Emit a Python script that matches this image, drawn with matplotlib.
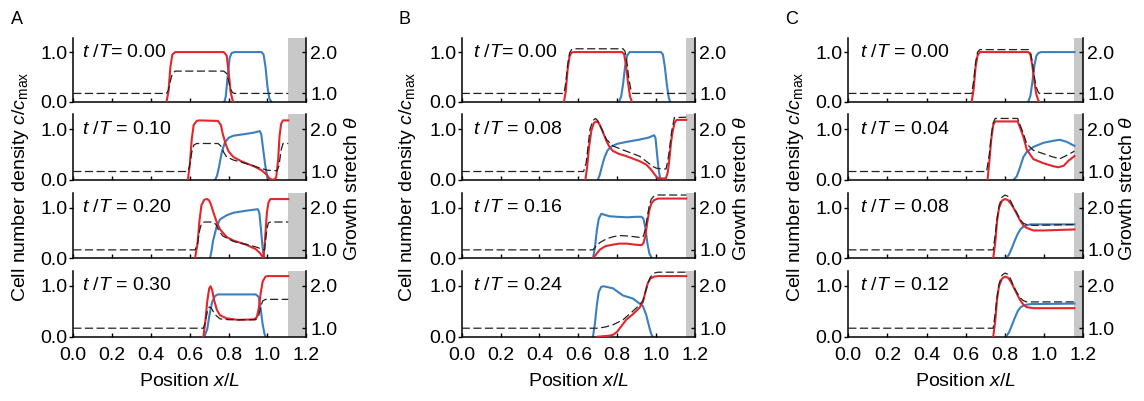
#!/usr/bin/env python3
"""Cell density profiles (two populations) and growth stretch over time, panels A-C."""
import matplotlib
matplotlib.use("Agg")
import matplotlib.pyplot as plt

plt.rcParams["font.family"] = ["Liberation Sans", "DejaVu Sans"]
plt.rcParams["mathtext.fontset"] = "custom"
plt.rcParams["mathtext.rm"] = "Liberation Sans"
plt.rcParams["mathtext.it"] = "Liberation Sans:italic"

RED = "#e2262b"
BLUE = "#3b7fbf"

# ---- values: (x/L, value) pairs ----
# panel A
A_times = ["0.00", "0.10", "0.20", "0.30"]
A_gray = 1.107
A0_red = [(0.48, 0), (0.49, 0.2), (0.50, 0.7), (0.51, 0.95), (0.525, 1.0), (0.775, 1.0), (0.79, 0.93),
          (0.80, 0.6), (0.81, 0.2), (0.82, 0.03), (0.825, 0)]
A0_blue = [(0.778, 0), (0.785, 0.1), (0.795, 0.5), (0.805, 0.88), (0.815, 0.98), (0.83, 1.0), (0.97, 1.0),
           (0.98, 0.95), (0.99, 0.7), (1.0, 0.3), (1.01, 0.06), (1.02, 0)]
A0_theta = [(0, 1.0), (0.48, 1.0), (0.49, 1.08), (0.50, 1.3), (0.51, 1.48), (0.525, 1.54), (0.775, 1.54),
            (0.79, 1.48), (0.80, 1.3), (0.81, 1.1), (0.82, 1.02), (0.83, 1.0), (A_gray, 1.0)]
A1_red = [(0.59, 0), (0.60, 0.3), (0.61, 0.8), (0.62, 1.08), (0.635, 1.16), (0.65, 1.17), (0.745, 1.16),
          (0.76, 1.08), (0.77, 0.9), (0.785, 0.7), (0.80, 0.56), (0.825, 0.45), (0.87, 0.36), (0.93, 0.27),
          (0.97, 0.19), (0.997, 0.1), (1.01, 0.03), (1.03, 0.0), (1.045, 0.05), (1.055, 0.4), (1.062, 0.85),
          (1.07, 1.1), (1.08, 1.17), (A_gray, 1.17)]
A1_blue = [(0.73, 0), (0.74, 0.08), (0.75, 0.25), (0.765, 0.55), (0.78, 0.73), (0.80, 0.83), (0.825, 0.87),
           (0.88, 0.9), (0.93, 0.93), (0.96, 0.96), (0.968, 0.9), (0.978, 0.6), (0.99, 0.25), (1.0, 0.04),
           (1.005, 0)]
A1_theta = [(0, 1.0), (0.59, 1.0), (0.60, 1.15), (0.61, 1.45), (0.62, 1.62), (0.635, 1.66), (0.745, 1.66),
            (0.76, 1.6), (0.775, 1.45), (0.79, 1.34), (0.825, 1.27), (0.88, 1.2), (0.93, 1.13), (0.97, 1.07),
            (1.0, 1.03), (1.05, 1.02), (1.06, 1.15), (1.07, 1.5), (1.08, 1.66), (A_gray, 1.66)]
A2_red = [(0.627, 0), (0.64, 0.3), (0.65, 0.75), (0.66, 1.05), (0.675, 1.16), (0.69, 1.17), (0.70, 1.14),
          (0.71, 1.05), (0.722, 0.9), (0.74, 0.7), (0.756, 0.57), (0.79, 0.42), (0.825, 0.35), (0.89, 0.27),
          (0.94, 0.18), (0.962, 0.1), (0.975, 0.03), (0.98, 0.01), (0.988, 0.4), (0.997, 0.9), (1.005, 1.1),
          (1.015, 1.17), (A_gray, 1.17)]
A2_blue = [(0.704, 0), (0.712, 0.15), (0.72, 0.35), (0.74, 0.65), (0.756, 0.77), (0.79, 0.85), (0.825, 0.9),
           (0.89, 0.94), (0.95, 0.97), (0.958, 0.9), (0.966, 0.6), (0.974, 0.25), (0.98, 0.04), (0.985, 0)]
A2_theta = [(0, 1.0), (0.627, 1.0), (0.64, 1.15), (0.65, 1.45), (0.66, 1.62), (0.675, 1.66), (0.72, 1.66),
            (0.735, 1.6), (0.75, 1.45), (0.77, 1.33), (0.79, 1.28), (0.825, 1.2), (0.89, 1.13), (0.94, 1.07),
            (0.97, 1.02), (0.985, 1.0), (0.99, 1.2), (0.997, 1.5), (1.005, 1.64), (1.015, 1.66),
            (A_gray, 1.66)]
A3_red = [(0.67, 0), (0.68, 0.3), (0.69, 0.7), (0.70, 0.95), (0.707, 0.99), (0.715, 0.92), (0.725, 0.72),
          (0.74, 0.52), (0.756, 0.42), (0.79, 0.36), (0.85, 0.33), (0.93, 0.34), (0.945, 0.38), (0.955, 0.55),
          (0.965, 0.85), (0.975, 1.08), (0.99, 1.18), (1.0, 1.19), (A_gray, 1.19)]
A3_blue = [(0.675, 0), (0.69, 0.15), (0.70, 0.4), (0.715, 0.68), (0.73, 0.8), (0.745, 0.83), (0.94, 0.83),
           (0.955, 0.78), (0.965, 0.55), (0.975, 0.25), (0.985, 0.05), (0.99, 0)]
A3_theta = [(0, 1.0), (0.67, 1.0), (0.68, 1.15), (0.69, 1.38), (0.70, 1.5), (0.71, 1.48), (0.73, 1.32),
            (0.756, 1.22), (0.80, 1.2), (0.94, 1.2), (0.955, 1.3), (0.965, 1.5), (0.975, 1.64), (0.99, 1.68),
            (A_gray, 1.68)]

# panel B
B_times = ["0.00", "0.08", "0.16", "0.24"]
B_gray = 1.155
B0_red = [(0.526, 0), (0.535, 0.2), (0.545, 0.65), (0.555, 0.92), (0.565, 0.99), (0.575, 1.0), (0.825, 1.0),
          (0.835, 0.96), (0.845, 0.75), (0.855, 0.4), (0.865, 0.12), (0.875, 0)]
B0_blue = [(0.809, 0), (0.82, 0.1), (0.83, 0.35), (0.84, 0.7), (0.85, 0.92), (0.863, 1.0), (1.025, 1.0),
           (1.035, 0.95), (1.045, 0.7), (1.055, 0.35), (1.065, 0.08), (1.072, 0)]
B0_theta = [(0, 1.0), (0.526, 1.0), (0.535, 1.25), (0.545, 1.7), (0.555, 1.98), (0.565, 2.06), (0.575, 2.08),
            (0.83, 2.08), (0.84, 2.02), (0.85, 1.75), (0.86, 1.35), (0.87, 1.1), (0.88, 1.0), (B_gray, 1.0)]
B1_red = [(0.636, 0), (0.645, 0.25), (0.655, 0.65), (0.667, 0.97), (0.68, 1.12), (0.692, 1.15), (0.705, 1.12),
          (0.72, 1.0), (0.744, 0.77), (0.76, 0.65), (0.778, 0.57), (0.81, 0.51), (0.846, 0.47), (0.88, 0.42),
          (0.915, 0.37), (0.95, 0.3), (0.975, 0.2), (0.99, 0.12), (1.005, 0.05), (1.02, 0.03), (1.05, 0.03),
          (1.06, 0.15), (1.068, 0.4), (1.077, 0.75), (1.085, 0.95), (1.095, 1.12), (1.105, 1.18),
          (B_gray, 1.18)]
B1_blue = [(0.70, 0), (0.71, 0.1), (0.72, 0.25), (0.735, 0.45), (0.75, 0.58), (0.77, 0.66), (0.80, 0.71),
           (0.85, 0.75), (0.91, 0.79), (0.96, 0.83), (0.99, 0.88), (0.997, 0.82), (1.005, 0.5), (1.013, 0.2),
           (1.02, 0.05), (1.026, 0)]
B1_theta = [(0, 1.0), (0.627, 1.0), (0.64, 1.2), (0.65, 1.6), (0.66, 2.0), (0.675, 2.2), (0.688, 2.25),
            (0.70, 2.2), (0.715, 2.05), (0.744, 1.76), (0.778, 1.6), (0.846, 1.48), (0.915, 1.36),
            (0.983, 1.12), (1.0, 1.08), (1.03, 1.06), (1.051, 1.06), (1.06, 1.25), (1.068, 1.5),
            (1.08, 1.95), (1.094, 2.27), (B_gray, 2.28)]
B2_red = [(0.675, 0), (0.69, 0.07), (0.71, 0.17), (0.74, 0.24), (0.778, 0.27), (0.81, 0.29), (0.85, 0.29),
          (0.89, 0.27), (0.925, 0.26), (0.935, 0.3), (0.945, 0.45), (0.955, 0.72), (0.965, 0.95),
          (0.975, 1.08), (0.99, 1.15), (1.01, 1.18), (B_gray, 1.18)]
B2_blue = [(0.675, 0), (0.685, 0.2), (0.695, 0.55), (0.705, 0.78), (0.718, 0.88), (0.735, 0.86), (0.76, 0.83),
           (0.80, 0.82), (0.85, 0.81), (0.90, 0.82), (0.925, 0.82), (0.935, 0.78), (0.945, 0.6),
           (0.955, 0.3), (0.965, 0.1), (0.975, 0.02), (0.98, 0)]
B2_theta = [(0, 1.0), (0.675, 1.0), (0.69, 1.08), (0.71, 1.17), (0.744, 1.26), (0.778, 1.31), (0.81, 1.34),
            (0.85, 1.33), (0.89, 1.31), (0.925, 1.29), (0.935, 1.33), (0.945, 1.5), (0.955, 1.8),
            (0.965, 2.05), (0.975, 2.2), (0.99, 2.28), (1.01, 2.3), (B_gray, 2.3)]
B3_red = [(0.70, 0), (0.76, 0.02), (0.78, 0.04), (0.80, 0.1), (0.82, 0.2), (0.846, 0.33), (0.88, 0.44),
          (0.915, 0.57), (0.932, 0.68), (0.945, 0.88), (0.957, 1.05), (0.97, 1.14), (0.99, 1.18),
          (1.01, 1.19), (B_gray, 1.19)]
B3_blue = [(0.675, 0), (0.685, 0.25), (0.695, 0.62), (0.705, 0.88), (0.718, 0.98), (0.73, 0.99), (0.778, 0.95),
           (0.829, 0.81), (0.88, 0.75), (0.915, 0.65), (0.932, 0.6), (0.949, 0.43), (0.966, 0.17),
           (0.975, 0.05), (0.983, 0)]
B3_theta = [(0, 1.0), (0.70, 1.0), (0.74, 1.03), (0.778, 1.08), (0.83, 1.2), (0.88, 1.4), (0.915, 1.55),
            (0.932, 1.65), (0.945, 1.85), (0.957, 2.05), (0.97, 2.2), (0.99, 2.3), (1.01, 2.32),
            (B_gray, 2.32)]

# panel C
C_times = ["0.00", "0.04", "0.08", "0.12"]
C_gray = 1.155
C0_red = [(0.63, 0), (0.64, 0.25), (0.65, 0.7), (0.66, 0.93), (0.672, 1.0), (0.92, 1.0), (0.93, 0.95),
          (0.94, 0.72), (0.95, 0.4), (0.96, 0.15), (0.97, 0.03), (0.975, 0)]
C0_blue = [(0.919, 0), (0.93, 0.12), (0.94, 0.4), (0.95, 0.72), (0.96, 0.92), (0.97, 0.98), (0.985, 1.0),
           (C_gray, 1.0)]
C0_theta = [(0, 1.0), (0.63, 1.0), (0.64, 1.3), (0.65, 1.75), (0.66, 2.0), (0.672, 2.06), (0.92, 2.06),
            (0.93, 2.0), (0.94, 1.75), (0.95, 1.4), (0.96, 1.15), (0.97, 1.03), (0.975, 1.0), (C_gray, 1.0)]
C1_red = [(0.711, 0), (0.72, 0.35), (0.73, 0.8), (0.74, 1.08), (0.75, 1.15), (0.865, 1.15), (0.875, 1.05),
          (0.894, 0.85), (0.911, 0.6), (0.945, 0.41), (0.996, 0.33), (1.047, 0.27), (1.072, 0.25),
          (1.10, 0.28), (1.125, 0.38), (C_gray, 0.47)]
C1_blue = [(0.843, 0), (0.86, 0.07), (0.877, 0.25), (0.894, 0.45), (0.911, 0.55), (0.945, 0.65), (0.996, 0.73),
           (1.047, 0.77), (1.08, 0.79), (1.115, 0.75), (C_gray, 0.67)]
C1_theta = [(0, 1.0), (0.706, 1.0), (0.72, 1.4), (0.73, 1.85), (0.74, 2.15), (0.75, 2.25), (0.865, 2.25),
            (0.875, 2.12), (0.894, 1.9), (0.911, 1.65), (0.945, 1.5), (0.996, 1.42), (1.047, 1.34),
            (1.08, 1.3), (1.115, 1.38), (C_gray, 1.48)]
C2_red = [(0.74, 0), (0.75, 0.3), (0.76, 0.75), (0.77, 1.0), (0.785, 1.14), (0.80, 1.17), (0.815, 1.15),
          (0.83, 1.08), (0.843, 1.0), (0.86, 0.88), (0.877, 0.75), (0.894, 0.65), (0.911, 0.6), (0.945, 0.55),
          (1.0, 0.55), (C_gray, 0.57)]
C2_blue = [(0.805, 0), (0.82, 0.07), (0.835, 0.2), (0.85, 0.35), (0.865, 0.48), (0.88, 0.58), (0.90, 0.64),
           (0.93, 0.67), (C_gray, 0.67)]
C2_theta = [(0, 1.0), (0.74, 1.0), (0.75, 1.35), (0.76, 1.75), (0.77, 2.05), (0.785, 2.25), (0.80, 2.3),
            (0.815, 2.27), (0.83, 2.15), (0.845, 2.0), (0.86, 1.88), (0.877, 1.72), (0.894, 1.63),
            (0.911, 1.6), (0.945, 1.58), (C_gray, 1.6)]
C3_red = [(0.74, 0), (0.75, 0.3), (0.76, 0.75), (0.77, 1.0), (0.785, 1.14), (0.80, 1.18), (0.815, 1.16),
          (0.83, 1.08), (0.843, 0.98), (0.86, 0.85), (0.877, 0.72), (0.894, 0.63), (0.911, 0.58),
          (0.945, 0.56), (C_gray, 0.56)]
C3_blue = [(0.805, 0), (0.82, 0.08), (0.835, 0.22), (0.85, 0.37), (0.865, 0.5), (0.88, 0.58), (0.90, 0.62),
           (0.93, 0.64), (C_gray, 0.65)]
C3_theta = [(0, 1.0), (0.74, 1.0), (0.75, 1.35), (0.76, 1.75), (0.77, 2.05), (0.785, 2.25), (0.80, 2.3),
            (0.815, 2.27), (0.83, 2.15), (0.845, 1.98), (0.86, 1.85), (0.877, 1.72), (0.894, 1.65),
            (0.911, 1.62), (0.945, 1.62), (C_gray, 1.62)]

PANELS = [
    ("A", A_times, A_gray, [(A0_red, A0_blue, A0_theta), (A1_red, A1_blue, A1_theta),
                            (A2_red, A2_blue, A2_theta), (A3_red, A3_blue, A3_theta)]),
    ("B", B_times, B_gray, [(B0_red, B0_blue, B0_theta), (B1_red, B1_blue, B1_theta),
                            (B2_red, B2_blue, B2_theta), (B3_red, B3_blue, B3_theta)]),
    ("C", C_times, C_gray, [(C0_red, C0_blue, C0_theta), (C1_red, C1_blue, C1_theta),
                            (C2_red, C2_blue, C2_theta), (C3_red, C3_blue, C3_theta)]),
]

W, H = 1144, 401
FS = 14
# layout in pixels (left, right of each panel; top, bottom of each row)
panel_x = [(73.3, 306.3), (461.7, 695.0), (848.3, 1083.3)]
row_y = [(37.7, 101.7), (114.3, 180.0), (193.0, 258.3), (271.0, 336.7)]
ylab_x = [21, 408, 795]
rlab_x = [353, 741, 1128]
letter_x = [17, 404, 792]
eq_nospace = {("A", 0), ("B", 0)}


def xy(pts):
    return [p[0] for p in pts], [p[1] for p in pts]


fig = plt.figure(figsize=(W / 100, H / 100), dpi=100)

for pi, (letter, times, gray, rows) in enumerate(PANELS):
    x0, x1 = panel_x[pi]
    for ri, (red, blue, theta) in enumerate(rows):
        top, bot = row_y[ri]
        ax = fig.add_axes([x0 / W, 1 - bot / H, (x1 - x0) / W, (bot - top) / H])
        ax.axvspan(gray, 1.2, color="#c8c8c8", lw=0, zorder=0)
        ax.plot(*xy(blue), color=BLUE, lw=1.5, zorder=2)
        ax.plot(*xy(red), color=RED, lw=1.5, zorder=3)
        ax.set_xlim(0, 1.2)
        ax.set_ylim(0, 1.29)
        ax.set_xticks([0, 0.2, 0.4, 0.6, 0.8, 1.0, 1.2])
        ax.set_yticks([0, 1])
        ax.set_yticklabels(["0.0", "1.0"])
        ax.spines["top"].set_visible(False)
        ax.spines["right"].set_visible(False)
        for s in ("left", "bottom"):
            ax.spines[s].set_linewidth(1.1)
        ax.tick_params(axis="x", direction="in", length=3, width=1, labelsize=FS, pad=7.5)
        ax.tick_params(axis="y", direction="out", length=3, width=1, labelsize=FS, pad=1)
        if ri < 3:
            ax.tick_params(axis="x", labelbottom=False)
        else:
            ax.set_xticklabels(["0.0", "0.2", "0.4", "0.6", "0.8", "1.0", "1.2"])

        eq = "= " if (letter, ri) in eq_nospace else " = "
        ax.text(0.045 if pi == 0 else 0.06, 1.0, r"$t$ /$T$" + eq + times[ri], fontsize=FS,
                va="center", ha="left")

        ax2 = ax.twinx()
        ax2.plot(*xy(theta), color="#222222", lw=0.9, dashes=(6.5, 2.8))
        ax2.set_ylim(0.8, 2.348)
        ax2.set_yticks([1, 2])
        ax2.set_yticklabels(["1.0", "2.0"])
        ax2.spines["top"].set_visible(False)
        ax2.spines["left"].set_visible(False)
        ax2.spines["bottom"].set_visible(False)
        ax2.spines["right"].set_linewidth(1.1)
        ax2.tick_params(axis="y", direction="in", length=3, width=1, labelsize=FS, pad=3)

    fig.text((x0 + x1) / 2 / W, 1 - 381 / H, r"Position $x$/$L$", fontsize=FS, ha="center", va="center")
    fig.text(ylab_x[pi] / W, 1 - 187 / H, r"Cell number density $c/c_{\mathrm{max}}$", fontsize=FS,
             rotation=90, ha="center", va="center")
    fig.text(rlab_x[pi] / W, 1 - 189 / H, r"Growth stretch $\theta$", fontsize=FS,
             rotation=90, ha="center", va="center")
    fig.text(letter_x[pi] / W, 1 - 19 / H, letter, fontsize=13, ha="center", va="center")

fig.savefig("out.png", dpi=100)
